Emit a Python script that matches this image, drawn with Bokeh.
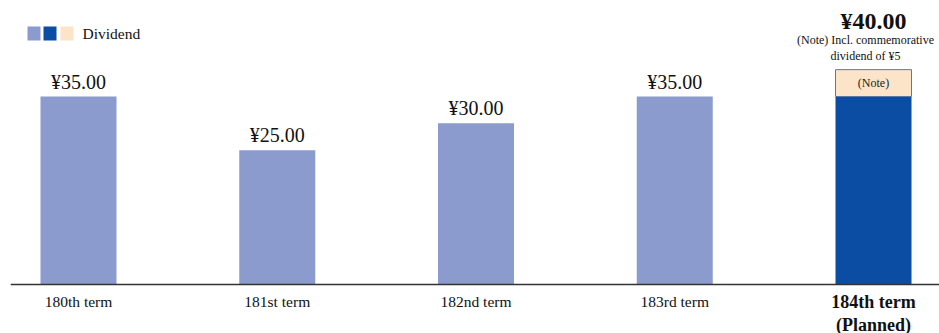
from bokeh.plotting import figure
from bokeh.models import Range1d, Span
from bokeh.core.properties import value
from bokeh.embed import file_html
from bokeh.resources import INLINE

# ---- data ----
terms = ["180th term", "181st term", "182nd term", "183rd term", "184th term"]
regular_dividend = [35, 25, 30, 35, 35]
commemorative_dividend = [0, 0, 0, 0, 5]
value_labels = ["¥35.00", "¥25.00", "¥30.00", "¥35.00", "¥40.00"]
planned_label = "(Planned)"
note_lines = ["(Note) Incl. commemorative", "dividend of ¥5"]
note_in_bar = "(Note)"
legend_label = "Dividend"

# ---- styling ----
LIGHT = "#8B9BCE"
DARK = "#0B4DA2"
BEIGE = "#FCE4C8"
FONT = value("Liberation Serif")

W, H = 939, 333
LEFT = 10
px_per_x = 198.75
x_center0 = 78
px_per_y = 188 / 35.0
base_px = 284

X0 = (LEFT - x_center0) / px_per_x
X1 = X0 + (W - LEFT) / px_per_x
Y1 = base_px / px_per_y
Y0 = -(H - base_px) / px_per_y


def dx(px):
    return X0 + (px - LEFT) / px_per_x


def dy(py):
    return (base_px - py) / px_per_y


p = figure(width=W, height=H, x_range=Range1d(X0, X1), y_range=Range1d(Y0, Y1),
           output_backend="svg", toolbar_location=None,
           min_border_left=LEFT, min_border_right=0, min_border_top=0, min_border_bottom=0)
p.axis.visible = False
p.grid.visible = False
p.outline_line_color = None
p.background_fill_color = "white"

xs = list(range(len(terms)))
n = len(terms)
bw = 76 / px_per_x
colors = [LIGHT] * (n - 1) + [DARK]
totals = [a + b for a, b in zip(regular_dividend, commemorative_dividend)]

p.vbar(x=xs, top=regular_dividend, bottom=0, width=bw, fill_color=colors, line_color=None)
p.vbar(x=xs, bottom=regular_dividend, top=totals, width=bw,
       fill_color=BEIGE, line_color="#5A78A8", line_width=1,
       fill_alpha=[0] * (n - 1) + [1], line_alpha=[0] * (n - 1) + [1])

p.add_layout(Span(location=0, dimension="width", line_color="#333333", line_width=1.5))

# value labels
p.text(x=xs[:-1], y=totals[:-1], text=value_labels[:-1], text_align="center",
       text_baseline="alphabetic", y_offset=-15, text_font=FONT,
       text_font_size="20px", text_color="#111111")
p.text(x=[xs[-1]], y=[totals[-1]], text=[value_labels[-1]], text_align="center",
       text_baseline="alphabetic", y_offset=-49, text_font=FONT,
       text_font_size="24px", text_font_style="bold", text_color="#111111")
p.text(x=[xs[-1]] * 2, y=[totals[-1]] * 2, text=note_lines, text_align="center",
       text_baseline="alphabetic", x_offset=-8, y_offset=[-30, -14], text_font=FONT,
       text_font_size="12px", text_color="#111111")
p.text(x=[xs[-1]], y=[(regular_dividend[-1] + totals[-1]) / 2], text=[note_in_bar],
       text_align="center", text_baseline="middle", text_font=FONT,
       text_font_size="12px", text_color="#222222")

# category labels
p.text(x=xs[:-1], y=[0] * (n - 1), text=terms[:-1], text_align="center",
       text_baseline="alphabetic", y_offset=17, text_font=FONT,
       text_font_size="15.5px", text_color="#111111")
p.text(x=[xs[-1]] * 2, y=[0, 0], text=[terms[-1], planned_label], text_align="center",
       text_baseline="alphabetic", y_offset=[17, 40], text_font=FONT,
       text_font_size="18px", text_font_style="bold", text_color="#111111")

# legend
for left_px, c in zip([27, 43, 60], [LIGHT, DARK, BEIGE]):
    p.quad(left=[dx(left_px)], right=[dx(left_px + 13)], top=[dy(26)], bottom=[dy(40)],
           fill_color=c, line_color=None)
p.text(x=[dx(82)], y=[dy(39)], text=[legend_label], text_align="left",
       text_baseline="alphabetic", y_offset=-6, text_font=FONT, text_font_size="15.5px",
       text_color="#111111")

open("out.html", "w").write(file_html(p, INLINE))
